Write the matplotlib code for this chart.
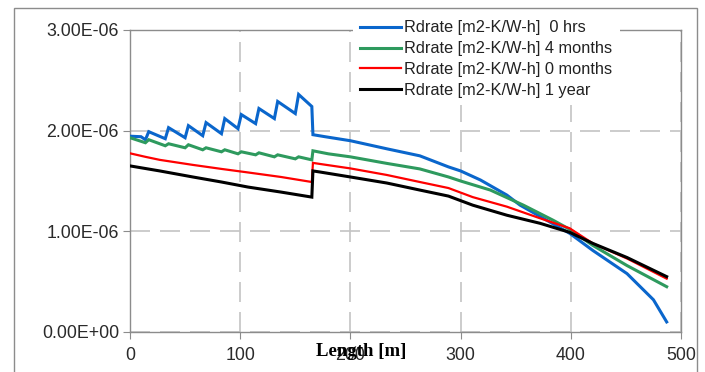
import matplotlib
matplotlib.use("Agg")
import matplotlib.pyplot as plt
from matplotlib.patches import Rectangle
from matplotlib.ticker import FuncFormatter

# Drying rate along the length of the pipe for four ages
x_0hrs = [0, 10, 14, 17, 32, 35, 50, 53, 66, 69, 83, 86, 98, 101, 114, 117,
          131, 134, 150, 153, 165, 166, 177, 200, 233, 263, 289, 300, 318,
          342, 354, 375, 399, 420, 451, 475, 487]
r_0hrs = [1.945, 1.94, 1.91, 1.99, 1.92, 2.03, 1.93, 2.05, 1.95, 2.08, 1.97,
          2.12, 2.02, 2.16, 2.07, 2.22, 2.12, 2.29, 2.17, 2.36, 2.24, 1.96,
          1.94, 1.90, 1.82, 1.75, 1.64, 1.60, 1.51, 1.36, 1.26, 1.13, 0.98,
          0.81, 0.58, 0.32, 0.10]

x_4mo = [0, 14, 17, 32, 35, 50, 53, 66, 69, 83, 86, 98, 101, 114, 117, 131,
         134, 150, 153, 165, 166, 180, 200, 233, 263, 289, 300, 327, 357, 384,
         399, 420, 451, 487]
r_4mo = [1.93, 1.88, 1.91, 1.85, 1.87, 1.83, 1.86, 1.81, 1.83, 1.79, 1.81,
         1.77, 1.79, 1.76, 1.78, 1.74, 1.76, 1.72, 1.74, 1.71, 1.80, 1.77,
         1.74, 1.675, 1.62, 1.54, 1.50, 1.41, 1.26, 1.11, 1.02, 0.86, 0.66,
         0.45]

x_0mo = [0, 14, 27, 57, 83, 107, 137, 165, 166, 172, 200, 233, 263, 289, 311,
         342, 372, 399, 420, 451, 487]
r_0mo = [1.775, 1.74, 1.71, 1.66, 1.62, 1.585, 1.54, 1.49, 1.68, 1.67, 1.625,
         1.56, 1.49, 1.43, 1.34, 1.245, 1.13, 1.03, 0.88, 0.73, 0.53]

x_1yr = [0, 27, 57, 83, 107, 137, 165, 166, 172, 200, 233, 263, 289, 311,
         342, 372, 399, 420, 451, 487]
r_1yr = [1.65, 1.60, 1.54, 1.49, 1.44, 1.39, 1.34, 1.60, 1.59, 1.54, 1.48,
         1.41, 1.35, 1.26, 1.16, 1.08, 0.99, 0.88, 0.74, 0.55]

labels = ["Rdrate [m2-K/W-h]  0 hrs", "Rdrate [m2-K/W-h] 4 months",
          "Rdrate [m2-K/W-h] 0 months", "Rdrate [m2-K/W-h] 1 year"]
x_ticks = [0, 100, 200, 300, 400, 500]
y_ticks = [0.0, 1e-6, 2e-6, 3e-6]
scale = 1e-6

W, H = 705, 372
fig = plt.figure(figsize=(W / 100, H / 100), dpi=100)
plt.rcParams['font.family'] = ['Liberation Sans', 'DejaVu Sans']

# outer chart frame
fig.patches.append(Rectangle((14 / W, -0.05), (697 - 14) / W, 1.05 - 8 / H,
                             transform=fig.transFigure, fill=False,
                             edgecolor='#8c8c8c', linewidth=1.0))

ax = fig.add_axes([130 / W, 40 / H, 551 / W, 302 / H])

series = [(x_0hrs, r_0hrs, '#0a66cc', 2.2),
          (x_4mo, r_4mo, '#2e9a5e', 2.2),
          (x_0mo, r_0mo, '#ff0000', 1.6),
          (x_1yr, r_1yr, '#000000', 2.2)]
for (xs, ys, c, lw), lab in zip(series, labels):
    ax.plot(xs, [v * scale for v in ys], color=c, lw=lw, label=lab,
            solid_joinstyle='miter', zorder=3)

ax.set_xlim(0, 500)
ax.set_ylim(0, 3e-6)
ax.set_xticks(x_ticks)
ax.set_yticks(y_ticks)
ax.yaxis.set_major_formatter(FuncFormatter(lambda v, p: f"{v:.2E}"))
ax.grid(True, color='#c4c4c4', linestyle=(0, (12, 6)), linewidth=1.2, zorder=1)
ax.set_axisbelow(True)
for s in ax.spines.values():
    s.set_color('#8c8c8c')
    s.set_linewidth(1.0)
ax.tick_params(axis='both', direction='out', length=5, color='#8c8c8c',
               labelcolor='#2a2a2a', labelsize=12.8, pad=3)
ax.tick_params(axis='x', pad=6)

ax.text(361 / W, 1 - 352 / H, "Length [m]", transform=fig.transFigure,
        ha='center', va='center', fontsize=13.5, fontweight='bold',
        family=['Liberation Serif', 'DejaVu Serif'], zorder=10)

leg = ax.legend(loc='upper left', bbox_to_anchor=(353 / W, 1 - 13 / H),
                bbox_transform=fig.transFigure, frameon=True, fancybox=False,
                framealpha=1, facecolor='white', edgecolor='none',
                fontsize=11.8, handlelength=2.45, handletextpad=0.22,
                labelspacing=0.36, borderpad=0.45, borderaxespad=0)
leg.set_zorder(5)
for t in leg.get_texts():
    t.set_color('#222222')

fig.savefig("out.png", dpi=100)
